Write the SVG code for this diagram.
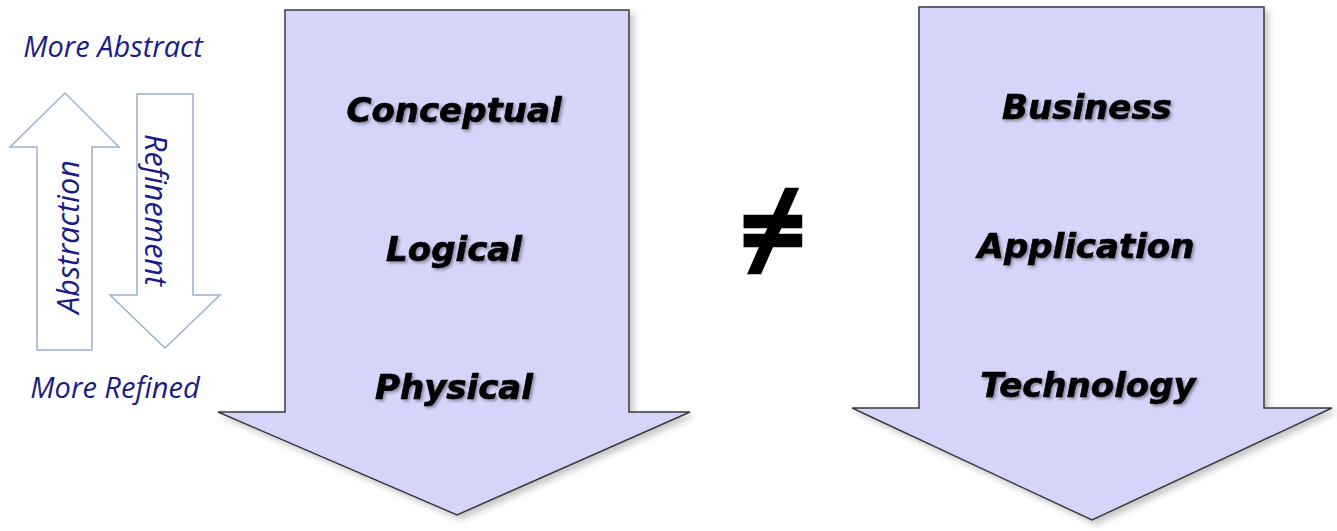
<svg xmlns="http://www.w3.org/2000/svg" width="1337" height="531" viewBox="0 0 1337 531">
<defs>
<filter id="shadow" x="-10%" y="-10%" width="125%" height="125%">
<feDropShadow dx="4" dy="4" stdDeviation="3" flood-color="#000" flood-opacity="0.22"/>
</filter>
<filter id="tshadow" x="-10%" y="-30%" width="125%" height="170%">
<feDropShadow dx="2" dy="2" stdDeviation="1.5" flood-color="#000" flood-opacity="0.35"/>
</filter>
</defs>
<style>
.big{fill:#d5d5fb;stroke:#3a3a3a;stroke-width:1.5;stroke-linejoin:miter}
.small{fill:#ffffff;stroke:#9bb0d3;stroke-width:1.5}
.lbl{font-family:"DejaVu Sans",Verdana,sans-serif;font-weight:bold;font-style:italic;font-size:34px;fill:#000;stroke:#000;stroke-width:0.7;text-anchor:middle}
.side{font-family:"Open Sans","Liberation Sans",sans-serif;font-style:italic;font-size:29px;fill:#1c1c86;text-anchor:middle}
.rot{font-size:30.5px}
.ne{font-family:"Noto Sans",sans-serif;font-weight:bold;font-size:102px;fill:#000;stroke:#000;stroke-width:2.5;stroke-linecap:round;text-anchor:middle}
</style>
<rect width="1337" height="531" fill="#ffffff"/>
<g id="left-scale">
<polygon class="small" points="65,93 119,147 92,147 92,350 37,350 37,147 10,147"/>
<polygon class="small" points="137,94 193,94 193,295 220,295 165,348 110,295 137,295"/>
<text class="side rot" transform="translate(79,237) rotate(-90)">Abstraction</text>
<text class="side rot" transform="translate(145,210) rotate(90)">Refinement</text>
<text class="side" x="113" y="57">More Abstract</text>
<text class="side" x="115" y="398">More Refined</text>
</g>
<g id="arrow-model">
<polygon class="big" filter="url(#shadow)" points="285,10 629,10 629,412 690,412 457,515 218,412 285,412"/>
<g filter="url(#tshadow)">
<text class="lbl" x="454" y="122">Conceptual</text>
<text class="lbl" x="454" y="261">Logical</text>
<text class="lbl" x="454" y="399">Physical</text>
</g>
</g>
<g id="not-equal">
<text class="ne" transform="translate(773,267) scale(1.13,1)">≠</text>
</g>
<g id="arrow-arch">
<polygon class="big" filter="url(#shadow)" points="919,7 1264,7 1264,408 1332,408 1092,520 852,408 919,408"/>
<g filter="url(#tshadow)">
<text class="lbl" x="1087" y="119">Business</text>
<text class="lbl" x="1086" y="258">Application</text>
<text class="lbl" x="1088" y="397">Technology</text>
</g>
</g>
<g id="connectors"></g>
</svg>
